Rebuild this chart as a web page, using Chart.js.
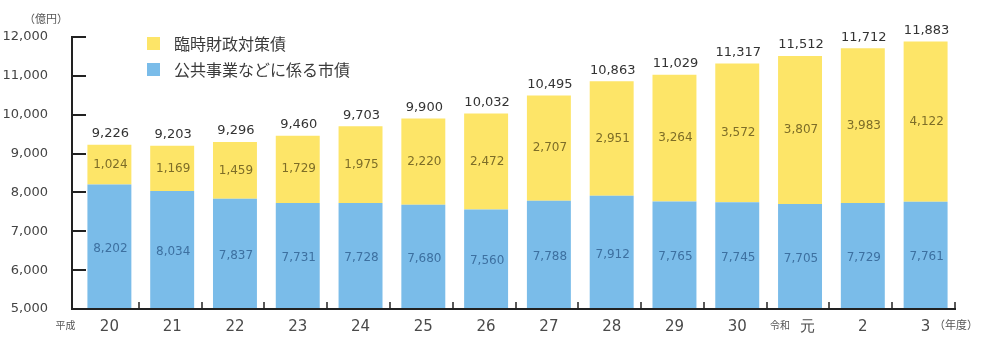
<!DOCTYPE html>
<html>
<head>
<meta charset="utf-8">
<script src="https://cdn.jsdelivr.net/npm/chart.js@4/dist/chart.umd.min.js"></script>
<style>
  html, body { margin: 0; padding: 0; background: #fff; }
  #wrap { width: 986px; height: 343px; position: relative; }
</style>
</head>
<body>
<div id="wrap"><canvas id="mychart"></canvas></div>
<script>
// 年度 (平成20 ~ 令和3)
const years = ['20', '21', '22', '23', '24', '25', '26', '27', '28', '29', '30', '　元', '2', '3'];
const eraMarks = [{ index: 0, text: '平成', dx: -44 }, { index: 11, text: '令和', dx: -20 }];

// 億円
const publicWorks = [8202, 8034, 7837, 7731, 7728, 7680, 7560, 7788, 7912, 7765, 7745, 7705, 7729, 7761];
const tempFiscal = [1024, 1169, 1459, 1729, 1975, 2220, 2472, 2707, 2951, 3264, 3572, 3807, 3983, 4122];
const totals = [9226, 9203, 9296, 9460, 9703, 9900, 10032, 10495, 10863, 11029, 11317, 11512, 11712, 11883];

const yTicks = [5000, 6000, 7000, 8000, 9000, 10000, 11000, 12000];

const blue = '#7abce9';
const yellow = '#fde568';
const jpFont = '"Noto Sans CJK JP", "Noto Sans", sans-serif';
const numFont = '"DejaVu Sans", "Liberation Sans", sans-serif';
const axisX = 72; // y axis line sits a little left of the first bar

const fmt = v => v.toLocaleString('en-US');

const extras = {
    id: 'extras',
    afterDraw(chart) {
        const ctx = chart.ctx;
        const area = chart.chartArea;
        const x = chart.scales.x, y = chart.scales.y;
        ctx.save();

        // axes
        ctx.strokeStyle = '#222';
        ctx.lineWidth = 2;
        ctx.beginPath();
        ctx.moveTo(axisX, area.top - 1);
        ctx.lineTo(axisX, area.bottom);
        ctx.lineTo(area.right - 1, area.bottom);
        ctx.stroke();

        // y ticks pointing inward
        yTicks.forEach(v => {
            if (v === y.min) return;
            const py = Math.round(y.getPixelForValue(v));
            ctx.beginPath();
            ctx.moveTo(axisX, py);
            ctx.lineTo(axisX + 14, py);
            ctx.stroke();
        });

        // x ticks between categories
        ctx.lineWidth = 1.5;
        const step = x.getPixelForValue(1) - x.getPixelForValue(0);
        years.forEach((_, i) => {
            const px = Math.round(x.getPixelForValue(i) + step / 2) - 2;
            ctx.beginPath();
            ctx.moveTo(px, area.bottom);
            ctx.lineTo(px, area.bottom - 7);
            ctx.stroke();
        });

        // values inside segments
        ctx.textAlign = 'center';
        ctx.textBaseline = 'middle';
        ctx.font = '12px ' + numFont;
        chart.getDatasetMeta(0).data.forEach((bar, i) => {
            const bot = Math.min(bar.base, area.bottom);
            ctx.fillStyle = '#3d70a0';
            ctx.fillText(fmt(publicWorks[i]), bar.x + 1, (bar.y + bot) / 2 + 2);
        });
        chart.getDatasetMeta(1).data.forEach((bar, i) => {
            ctx.font = '12px ' + numFont;
            ctx.fillStyle = '#7d6d28';
            ctx.fillText(fmt(tempFiscal[i]), bar.x + 1, (bar.y + bar.base) / 2);
            ctx.fillStyle = '#333';
            ctx.font = '13px ' + numFont;
            ctx.fillText(fmt(totals[i]), bar.x + 1, bar.y - 11);
        });

        // era prefixes and unit labels
        ctx.fillStyle = '#555';
        ctx.font = '10px ' + jpFont;
        eraMarks.forEach(m => {
            ctx.fillText(m.text, x.getPixelForValue(m.index) + m.dx, area.bottom + 16);
        });
        ctx.textAlign = 'left';
        ctx.font = '11px ' + jpFont;
        ctx.fillText('（年度）', 934, area.bottom + 16);
        ctx.fillText('（億円）', 24, 19);

        // legend
        const items = [[yellow, '臨時財政対策債'], [blue, '公共事業などに係る市債']];
        ctx.font = '16px ' + jpFont;
        items.forEach((it, k) => {
            const ly = 44 + k * 26;
            ctx.fillStyle = it[0];
            ctx.fillRect(147, ly - 7, 13, 13);
            ctx.fillStyle = '#3a3a3a';
            ctx.fillText(it[1], 174, ly);
        });
        ctx.restore();
    }
};

new Chart(document.getElementById('mychart').getContext('2d'), {
    type: 'bar',
    data: {
        labels: years,
        datasets: [
            { label: '公共事業などに係る市債', data: publicWorks, backgroundColor: blue },
            { label: '臨時財政対策債', data: tempFiscal, backgroundColor: yellow }
        ]
    },
    options: {
        responsive: true,
        maintainAspectRatio: false,
        animation: false,
        layout: { padding: { top: 37, right: 29, left: 0, bottom: 0 } },
        datasets: { bar: { categoryPercentage: 1, barPercentage: 0.7 } },
        plugins: { legend: { display: false }, tooltip: { enabled: false } },
        scales: {
            x: {
                stacked: true,
                grid: { display: false },
                border: { display: false },
                ticks: { color: '#4a4a4a', padding: 1, font: { size: 15, family: numFont } },
                afterFit: s => { s.height = 34; }
            },
            y: {
                stacked: true,
                min: 5000,
                max: 12000,
                grid: { display: false },
                border: { display: false },
                ticks: {
                    stepSize: 1000,
                    color: '#444',
                    padding: 22,
                    font: { size: 13, family: numFont },
                    callback: v => fmt(v)
                },
                afterFit: s => { s.width = 78; }
            }
        }
    },
    plugins: [extras]
});
</script>
</body>
</html>
